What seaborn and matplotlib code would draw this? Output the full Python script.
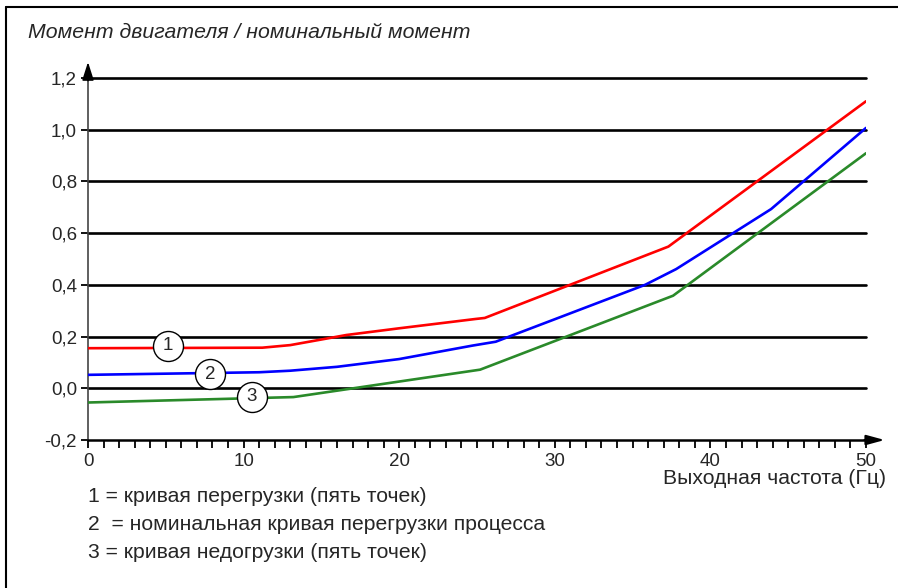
import matplotlib
matplotlib.use("Agg")
import matplotlib.pyplot as plt
from matplotlib.ticker import MultipleLocator, FixedLocator
import seaborn as sns
import pandas as pd

# ---- data ----
red_x = [0, 11.2, 13, 16.6, 20, 24.9, 25.5, 37.3, 50]
red_y = [0.155, 0.157, 0.167, 0.206, 0.232, 0.268, 0.272, 0.548, 1.11]
blue_x = [0, 11, 13, 16, 20, 24.7, 26.2, 35.8, 37.8, 43.9, 50]
blue_y = [0.052, 0.062, 0.068, 0.083, 0.113, 0.165, 0.18, 0.40, 0.461, 0.693, 1.007]
green_x = [0, 13.2, 25.2, 37.6, 50]
green_y = [-0.055, -0.034, 0.072, 0.358, 0.909]
series_names = ["1", "2", "3"]
series_colors = ["#ff0000", "#0000ff", "#2a8a2a"]
label_x = [5.16, 7.84, 10.52]
label_y = [0.165, 0.054, -0.032]
y_ticks = [-0.2, 0.0, 0.2, 0.4, 0.6, 0.8, 1.0, 1.2]
y_tick_labels = ["-0,2", "0,0", "0,2", "0,4", "0,6", "0,8", "1,0", "1,2"]
x_ticks = [0, 10, 20, 30, 40, 50]
x_tick_labels = ["0", "10", "20", "30", "40", "50"]
title = "Момент двигателя / номинальный момент"
xlabel = "Выходная частота (Гц)"
legend_lines = [
    "1 = кривая перегрузки (пять точек)",
    "2  = номинальная кривая перегрузки процесса",
    "3 = кривая недогрузки (пять точек)",
]

df = pd.concat([
    pd.DataFrame({"x": red_x, "y": red_y, "s": "1"}),
    pd.DataFrame({"x": blue_x, "y": blue_y, "s": "2"}),
    pd.DataFrame({"x": green_x, "y": green_y, "s": "3"}),
], ignore_index=True)

sns.set_style("white")
plt.rcParams["font.family"] = ["Liberation Sans", "DejaVu Sans"]

W, H = 898, 588
fig = plt.figure(figsize=(W / 100, H / 100), dpi=100)
ax = fig.add_axes([88 / W, 148 / H, 778 / W, 362 / H])

# gridlines
for yv in y_ticks[1:]:
    ax.axhline(yv, color="black", lw=1.9, zorder=1, clip_on=False)

sns.lineplot(data=df, x="x", y="y", hue="s", palette=dict(zip(series_names, series_colors)),
             ax=ax, lw=1.9, legend=False, sort=False, estimator=None, zorder=3)

ax.scatter(label_x, label_y, s=(30 * 0.72) ** 2, facecolor="white",
           edgecolor="black", lw=1.0, zorder=5)
for lx, ly, name in zip(label_x, label_y, series_names):
    ax.text(lx, ly, name, ha="center", va="center", fontsize=13.5, zorder=6)

ax.set_xlim(0, 50)
ax.set_ylim(-0.2, 1.2)
ax.set_xlabel("")
ax.set_ylabel("")
for s in ["top", "right"]:
    ax.spines[s].set_visible(False)
ax.spines["left"].set_color("#444444")
ax.spines["left"].set_linewidth(1.2)
ax.spines["bottom"].set_color("black")
ax.spines["bottom"].set_linewidth(1.8)

ax.xaxis.set_major_locator(FixedLocator(x_ticks))
ax.set_xticklabels(x_tick_labels)
ax.xaxis.set_minor_locator(MultipleLocator(1))
ax.yaxis.set_major_locator(FixedLocator(y_ticks))
ax.set_yticklabels(y_tick_labels)
ax.tick_params(axis="x", which="both", direction="out", length=6, width=1.3,
               color="black", labelsize=13.5, pad=3, bottom=True)
ax.tick_params(axis="y", which="major", direction="out", length=5, width=1.3,
               color="black", labelsize=13.5, pad=3, left=True)

# axis arrows
ax.annotate("", xy=(0, 1.262), xytext=(0, 1.19), xycoords="data",
            arrowprops=dict(arrowstyle="-|>,head_length=1.1,head_width=0.35",
                            color="black", lw=1.2, shrinkA=0, shrinkB=0),
            annotation_clip=False)
ax.annotate("", xy=(51.2, -0.2), xytext=(49.9, -0.2), xycoords="data",
            arrowprops=dict(arrowstyle="-|>,head_length=1.1,head_width=0.3",
                            color="black", lw=1.5, shrinkA=0, shrinkB=0),
            annotation_clip=False)

fig.text(28 / W, 1 - 32 / H, title, fontsize=15.3, style="italic", ha="left", va="center")
fig.text(886 / W, 1 - 479 / H, xlabel, fontsize=15.2, ha="right", va="center")
for i, t in enumerate(legend_lines):
    fig.text(88 / W, 1 - (496 + 28 * i) / H, t, fontsize=15.2, ha="left", va="center")

# frame lines (left and top)
fig.add_artist(plt.Line2D([6 / W, 6 / W], [0, 1 - 7 / H], color="black", lw=1.5,
                          transform=fig.transFigure))
fig.add_artist(plt.Line2D([6 / W, 1], [1 - 7 / H, 1 - 7 / H], color="black", lw=1.5,
                          transform=fig.transFigure))

fig.savefig("out.png", dpi=100)
